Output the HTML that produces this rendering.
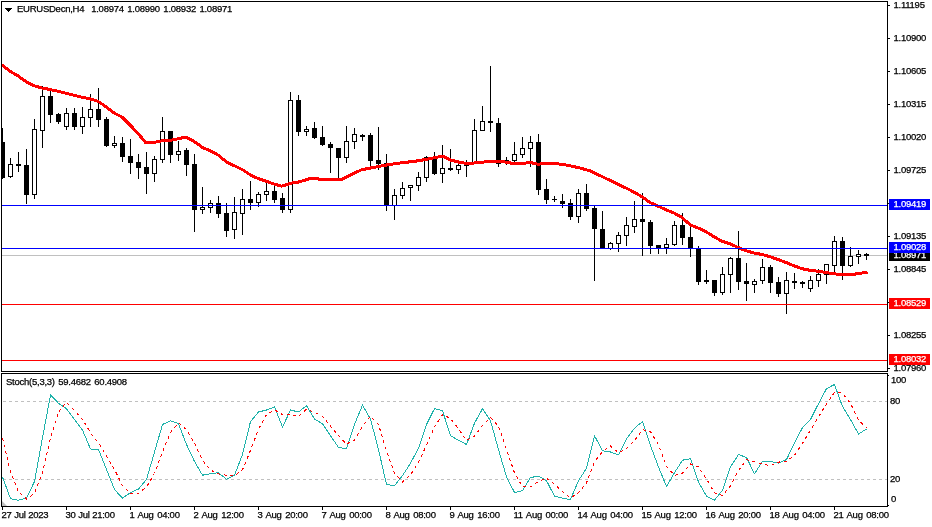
<!DOCTYPE html>
<html><head><meta charset="utf-8"><title>EURUSDecn,H4</title>
<style>
html,body{margin:0;padding:0;background:#fff;}
body{width:932px;height:527px;overflow:hidden;position:relative;font-family:"Liberation Sans",sans-serif;font-size:9.5px;color:#000;letter-spacing:-0.25px;word-spacing:1.1px;-webkit-text-stroke:0.25px currentColor;}
svg{position:absolute;left:0;top:0;}
.t{position:absolute;white-space:pre;line-height:10px;height:10px;}
.box{position:absolute;left:889px;width:41px;height:11px;color:#fff;}
.box span{position:absolute;left:4.5px;top:0px;line-height:10px;}
</style></head><body>
<svg width="932" height="527" viewBox="0 0 932 527">
<g shape-rendering="crispEdges">

<rect x="2" y="255" width="885" height="1" fill="#c0c0c0"/>
<rect x="2" y="128" width="1" height="51" fill="#000"/>
<rect x="1" y="142" width="4" height="36" fill="#000"/>
<rect x="10" y="158" width="1" height="20" fill="#000"/>
<rect x="8" y="164" width="5" height="13" fill="#000"/><rect x="9" y="165" width="3" height="11" fill="#fff"/>
<rect x="18" y="152" width="1" height="20" fill="#000"/>
<rect x="16" y="164" width="5" height="2" fill="#000"/>
<rect x="26" y="149" width="1" height="55" fill="#000"/>
<rect x="24" y="165" width="5" height="30" fill="#000"/>
<rect x="34" y="119" width="1" height="80" fill="#000"/>
<rect x="32" y="129" width="5" height="66" fill="#000"/><rect x="33" y="130" width="3" height="64" fill="#fff"/>
<rect x="42" y="86" width="1" height="62" fill="#000"/>
<rect x="40" y="96" width="5" height="35" fill="#000"/><rect x="41" y="97" width="3" height="33" fill="#fff"/>
<rect x="50" y="90" width="1" height="33" fill="#000"/>
<rect x="48" y="96" width="5" height="19" fill="#000"/>
<rect x="58" y="113" width="1" height="11" fill="#000"/>
<rect x="56" y="114" width="5" height="8" fill="#000"/>
<rect x="66" y="108" width="1" height="22" fill="#000"/>
<rect x="64" y="113" width="5" height="14" fill="#000"/><rect x="65" y="114" width="3" height="12" fill="#fff"/>
<rect x="74" y="108" width="1" height="22" fill="#000"/>
<rect x="72" y="113" width="5" height="14" fill="#000"/>
<rect x="82" y="107" width="1" height="27" fill="#000"/>
<rect x="80" y="117" width="5" height="10" fill="#000"/><rect x="81" y="118" width="3" height="8" fill="#fff"/>
<rect x="90" y="94" width="1" height="33" fill="#000"/>
<rect x="88" y="109" width="5" height="9" fill="#000"/><rect x="89" y="110" width="3" height="7" fill="#fff"/>
<rect x="98" y="88" width="1" height="39" fill="#000"/>
<rect x="96" y="109" width="5" height="11" fill="#000"/>
<rect x="106" y="117" width="1" height="30" fill="#000"/>
<rect x="104" y="119" width="5" height="27" fill="#000"/>
<rect x="114" y="136" width="1" height="12" fill="#000"/>
<rect x="112" y="143" width="5" height="3" fill="#000"/><rect x="113" y="144" width="3" height="1" fill="#fff"/>
<rect x="122" y="137" width="1" height="25" fill="#000"/>
<rect x="120" y="143" width="5" height="14" fill="#000"/>
<rect x="130" y="139" width="1" height="35" fill="#000"/>
<rect x="128" y="156" width="5" height="7" fill="#000"/>
<rect x="138" y="154" width="1" height="25" fill="#000"/>
<rect x="136" y="162" width="5" height="6" fill="#000"/>
<rect x="146" y="152" width="1" height="42" fill="#000"/>
<rect x="144" y="167" width="5" height="7" fill="#000"/>
<rect x="154" y="156" width="1" height="26" fill="#000"/>
<rect x="152" y="159" width="5" height="15" fill="#000"/><rect x="153" y="160" width="3" height="13" fill="#fff"/>
<rect x="162" y="117" width="1" height="46" fill="#000"/>
<rect x="160" y="131" width="5" height="29" fill="#000"/><rect x="161" y="132" width="3" height="27" fill="#fff"/>
<rect x="170" y="131" width="1" height="32" fill="#000"/>
<rect x="168" y="131" width="5" height="24" fill="#000"/>
<rect x="178" y="141" width="1" height="20" fill="#000"/>
<rect x="176" y="151" width="5" height="4" fill="#000"/><rect x="177" y="152" width="3" height="2" fill="#fff"/>
<rect x="186" y="148" width="1" height="28" fill="#000"/>
<rect x="184" y="150" width="5" height="15" fill="#000"/>
<rect x="194" y="154" width="1" height="78" fill="#000"/>
<rect x="192" y="164" width="5" height="46" fill="#000"/>
<rect x="202" y="187" width="1" height="27" fill="#000"/>
<rect x="200" y="207" width="5" height="3" fill="#000"/><rect x="201" y="208" width="3" height="1" fill="#fff"/>
<rect x="210" y="200" width="1" height="13" fill="#000"/>
<rect x="208" y="203" width="5" height="5" fill="#000"/><rect x="209" y="204" width="3" height="3" fill="#fff"/>
<rect x="218" y="196" width="1" height="22" fill="#000"/>
<rect x="216" y="203" width="5" height="11" fill="#000"/>
<rect x="226" y="203" width="1" height="34" fill="#000"/>
<rect x="224" y="213" width="5" height="18" fill="#000"/>
<rect x="234" y="197" width="1" height="42" fill="#000"/>
<rect x="232" y="212" width="5" height="18" fill="#000"/><rect x="233" y="213" width="3" height="16" fill="#fff"/>
<rect x="242" y="189" width="1" height="46" fill="#000"/>
<rect x="240" y="199" width="5" height="15" fill="#000"/><rect x="241" y="200" width="3" height="13" fill="#fff"/>
<rect x="250" y="181" width="1" height="29" fill="#000"/>
<rect x="248" y="199" width="5" height="4" fill="#000"/>
<rect x="258" y="192" width="1" height="15" fill="#000"/>
<rect x="256" y="194" width="5" height="9" fill="#000"/><rect x="257" y="195" width="3" height="7" fill="#fff"/>
<rect x="266" y="183" width="1" height="18" fill="#000"/>
<rect x="264" y="191" width="5" height="4" fill="#000"/><rect x="265" y="192" width="3" height="2" fill="#fff"/>
<rect x="274" y="186" width="1" height="17" fill="#000"/>
<rect x="272" y="191" width="5" height="9" fill="#000"/>
<rect x="282" y="193" width="1" height="20" fill="#000"/>
<rect x="280" y="198" width="5" height="12" fill="#000"/>
<rect x="290" y="92" width="1" height="121" fill="#000"/>
<rect x="288" y="100" width="5" height="110" fill="#000"/><rect x="289" y="101" width="3" height="108" fill="#fff"/>
<rect x="298" y="95" width="1" height="41" fill="#000"/>
<rect x="296" y="100" width="5" height="32" fill="#000"/>
<rect x="306" y="126" width="1" height="10" fill="#000"/>
<rect x="304" y="129" width="5" height="3" fill="#000"/><rect x="305" y="130" width="3" height="1" fill="#fff"/>
<rect x="314" y="122" width="1" height="17" fill="#000"/>
<rect x="312" y="128" width="5" height="10" fill="#000"/>
<rect x="322" y="126" width="1" height="20" fill="#000"/>
<rect x="320" y="137" width="5" height="8" fill="#000"/>
<rect x="330" y="142" width="1" height="31" fill="#000"/>
<rect x="328" y="144" width="5" height="4" fill="#000"/>
<rect x="338" y="148" width="1" height="30" fill="#000"/>
<rect x="336" y="148" width="5" height="10" fill="#000"/>
<rect x="346" y="126" width="1" height="37" fill="#000"/>
<rect x="344" y="141" width="5" height="17" fill="#000"/><rect x="345" y="142" width="3" height="15" fill="#fff"/>
<rect x="354" y="128" width="1" height="21" fill="#000"/>
<rect x="352" y="134" width="5" height="8" fill="#000"/><rect x="353" y="135" width="3" height="6" fill="#fff"/>
<rect x="362" y="134" width="1" height="7" fill="#000"/>
<rect x="360" y="135" width="5" height="2" fill="#000"/>
<rect x="370" y="133" width="1" height="33" fill="#000"/>
<rect x="368" y="135" width="5" height="26" fill="#000"/>
<rect x="378" y="127" width="1" height="43" fill="#000"/>
<rect x="376" y="160" width="5" height="4" fill="#000"/>
<rect x="386" y="154" width="1" height="57" fill="#000"/>
<rect x="384" y="163" width="5" height="42" fill="#000"/>
<rect x="394" y="189" width="1" height="31" fill="#000"/>
<rect x="392" y="195" width="5" height="11" fill="#000"/><rect x="393" y="196" width="3" height="9" fill="#fff"/>
<rect x="402" y="182" width="1" height="17" fill="#000"/>
<rect x="400" y="188" width="5" height="8" fill="#000"/><rect x="401" y="189" width="3" height="6" fill="#fff"/>
<rect x="410" y="185" width="1" height="16" fill="#000"/>
<rect x="408" y="185" width="5" height="3" fill="#000"/><rect x="409" y="186" width="3" height="1" fill="#fff"/>
<rect x="418" y="172" width="1" height="19" fill="#000"/>
<rect x="416" y="177" width="5" height="9" fill="#000"/><rect x="417" y="178" width="3" height="7" fill="#fff"/>
<rect x="426" y="156" width="1" height="26" fill="#000"/>
<rect x="424" y="157" width="5" height="21" fill="#000"/><rect x="425" y="158" width="3" height="19" fill="#fff"/>
<rect x="434" y="152" width="1" height="23" fill="#000"/>
<rect x="432" y="158" width="5" height="16" fill="#000"/>
<rect x="442" y="145" width="1" height="38" fill="#000"/>
<rect x="440" y="168" width="5" height="6" fill="#000"/><rect x="441" y="169" width="3" height="4" fill="#fff"/>
<rect x="450" y="149" width="1" height="22" fill="#000"/>
<rect x="448" y="168" width="5" height="2" fill="#000"/>
<rect x="458" y="160" width="1" height="14" fill="#000"/>
<rect x="456" y="165" width="5" height="5" fill="#000"/><rect x="457" y="166" width="3" height="3" fill="#fff"/>
<rect x="466" y="160" width="1" height="17" fill="#000"/>
<rect x="464" y="165" width="5" height="1" fill="#000"/>
<rect x="474" y="119" width="1" height="45" fill="#000"/>
<rect x="472" y="130" width="5" height="34" fill="#000"/><rect x="473" y="131" width="3" height="32" fill="#fff"/>
<rect x="482" y="106" width="1" height="25" fill="#000"/>
<rect x="480" y="121" width="5" height="10" fill="#000"/><rect x="481" y="122" width="3" height="8" fill="#fff"/>
<rect x="490" y="66" width="1" height="66" fill="#000"/>
<rect x="488" y="121" width="5" height="2" fill="#000"/>
<rect x="498" y="118" width="1" height="49" fill="#000"/>
<rect x="496" y="123" width="5" height="41" fill="#000"/>
<rect x="506" y="157" width="1" height="8" fill="#000"/>
<rect x="504" y="160" width="5" height="1" fill="#000"/>
<rect x="514" y="142" width="1" height="20" fill="#000"/>
<rect x="512" y="154" width="5" height="7" fill="#000"/><rect x="513" y="155" width="3" height="5" fill="#fff"/>
<rect x="522" y="137" width="1" height="21" fill="#000"/>
<rect x="520" y="148" width="5" height="7" fill="#000"/><rect x="521" y="149" width="3" height="5" fill="#fff"/>
<rect x="530" y="136" width="1" height="31" fill="#000"/>
<rect x="528" y="142" width="5" height="7" fill="#000"/><rect x="529" y="143" width="3" height="5" fill="#fff"/>
<rect x="538" y="134" width="1" height="61" fill="#000"/>
<rect x="536" y="142" width="5" height="48" fill="#000"/>
<rect x="546" y="179" width="1" height="25" fill="#000"/>
<rect x="544" y="189" width="5" height="11" fill="#000"/>
<rect x="554" y="196" width="1" height="6" fill="#000"/>
<rect x="552" y="199" width="5" height="1" fill="#000"/>
<rect x="562" y="194" width="1" height="14" fill="#000"/>
<rect x="560" y="201" width="5" height="3" fill="#000"/>
<rect x="570" y="199" width="1" height="21" fill="#000"/>
<rect x="568" y="203" width="5" height="14" fill="#000"/>
<rect x="578" y="189" width="1" height="34" fill="#000"/>
<rect x="576" y="193" width="5" height="24" fill="#000"/><rect x="577" y="194" width="3" height="22" fill="#fff"/>
<rect x="586" y="184" width="1" height="27" fill="#000"/>
<rect x="584" y="193" width="5" height="16" fill="#000"/>
<rect x="594" y="206" width="1" height="75" fill="#000"/>
<rect x="592" y="208" width="5" height="21" fill="#000"/>
<rect x="602" y="211" width="1" height="37" fill="#000"/>
<rect x="600" y="229" width="5" height="19" fill="#000"/>
<rect x="610" y="242" width="1" height="8" fill="#000"/>
<rect x="608" y="243" width="5" height="6" fill="#000"/><rect x="609" y="244" width="3" height="4" fill="#fff"/>
<rect x="618" y="232" width="1" height="20" fill="#000"/>
<rect x="616" y="235" width="5" height="9" fill="#000"/><rect x="617" y="236" width="3" height="7" fill="#fff"/>
<rect x="626" y="217" width="1" height="29" fill="#000"/>
<rect x="624" y="225" width="5" height="11" fill="#000"/><rect x="625" y="226" width="3" height="9" fill="#fff"/>
<rect x="634" y="201" width="1" height="32" fill="#000"/>
<rect x="632" y="219" width="5" height="8" fill="#000"/><rect x="633" y="220" width="3" height="6" fill="#fff"/>
<rect x="642" y="193" width="1" height="63" fill="#000"/>
<rect x="640" y="219" width="5" height="3" fill="#000"/>
<rect x="650" y="220" width="1" height="34" fill="#000"/>
<rect x="648" y="222" width="5" height="24" fill="#000"/>
<rect x="658" y="245" width="1" height="9" fill="#000"/>
<rect x="656" y="245" width="5" height="3" fill="#000"/>
<rect x="666" y="238" width="1" height="16" fill="#000"/>
<rect x="664" y="244" width="5" height="4" fill="#000"/><rect x="665" y="245" width="3" height="2" fill="#fff"/>
<rect x="674" y="221" width="1" height="25" fill="#000"/>
<rect x="672" y="225" width="5" height="20" fill="#000"/><rect x="673" y="226" width="3" height="18" fill="#fff"/>
<rect x="682" y="213" width="1" height="32" fill="#000"/>
<rect x="680" y="225" width="5" height="13" fill="#000"/>
<rect x="690" y="224" width="1" height="33" fill="#000"/>
<rect x="688" y="237" width="5" height="12" fill="#000"/>
<rect x="698" y="246" width="1" height="39" fill="#000"/>
<rect x="696" y="248" width="5" height="34" fill="#000"/>
<rect x="706" y="270" width="1" height="14" fill="#000"/>
<rect x="704" y="280" width="5" height="2" fill="#000"/>
<rect x="714" y="280" width="1" height="16" fill="#000"/>
<rect x="712" y="280" width="5" height="13" fill="#000"/>
<rect x="722" y="267" width="1" height="28" fill="#000"/>
<rect x="720" y="274" width="5" height="19" fill="#000"/><rect x="721" y="275" width="3" height="17" fill="#fff"/>
<rect x="730" y="257" width="1" height="36" fill="#000"/>
<rect x="728" y="258" width="5" height="17" fill="#000"/><rect x="729" y="259" width="3" height="15" fill="#fff"/>
<rect x="738" y="231" width="1" height="59" fill="#000"/>
<rect x="736" y="258" width="5" height="24" fill="#000"/>
<rect x="746" y="263" width="1" height="38" fill="#000"/>
<rect x="744" y="281" width="5" height="3" fill="#000"/>
<rect x="754" y="279" width="1" height="14" fill="#000"/>
<rect x="752" y="281" width="5" height="4" fill="#000"/><rect x="753" y="282" width="3" height="2" fill="#fff"/>
<rect x="762" y="259" width="1" height="25" fill="#000"/>
<rect x="760" y="267" width="5" height="14" fill="#000"/><rect x="761" y="268" width="3" height="12" fill="#fff"/>
<rect x="770" y="265" width="1" height="28" fill="#000"/>
<rect x="768" y="267" width="5" height="16" fill="#000"/>
<rect x="778" y="277" width="1" height="20" fill="#000"/>
<rect x="776" y="282" width="5" height="12" fill="#000"/>
<rect x="786" y="272" width="1" height="42" fill="#000"/>
<rect x="784" y="280" width="5" height="14" fill="#000"/><rect x="785" y="281" width="3" height="12" fill="#fff"/>
<rect x="794" y="273" width="1" height="16" fill="#000"/>
<rect x="792" y="281" width="5" height="2" fill="#000"/>
<rect x="802" y="281" width="1" height="7" fill="#000"/>
<rect x="800" y="282" width="5" height="2" fill="#000"/>
<rect x="810" y="276" width="1" height="16" fill="#000"/>
<rect x="808" y="280" width="5" height="9" fill="#000"/><rect x="809" y="281" width="3" height="7" fill="#fff"/>
<rect x="818" y="269" width="1" height="18" fill="#000"/>
<rect x="816" y="274" width="5" height="7" fill="#000"/><rect x="817" y="275" width="3" height="5" fill="#fff"/>
<rect x="826" y="264" width="1" height="20" fill="#000"/>
<rect x="824" y="264" width="5" height="11" fill="#000"/><rect x="825" y="265" width="3" height="9" fill="#fff"/>
<rect x="834" y="236" width="1" height="37" fill="#000"/>
<rect x="832" y="241" width="5" height="25" fill="#000"/><rect x="833" y="242" width="3" height="23" fill="#fff"/>
<rect x="842" y="237" width="1" height="43" fill="#000"/>
<rect x="840" y="241" width="5" height="25" fill="#000"/>
<rect x="850" y="247" width="1" height="20" fill="#000"/>
<rect x="848" y="256" width="5" height="10" fill="#000"/><rect x="849" y="257" width="3" height="8" fill="#fff"/>
<rect x="858" y="250" width="1" height="14" fill="#000"/>
<rect x="856" y="254" width="5" height="3" fill="#000"/><rect x="857" y="255" width="3" height="1" fill="#fff"/>
<rect x="866" y="253" width="1" height="7" fill="#000"/>
<rect x="864" y="254" width="5" height="2" fill="#000"/>
</g>
<polyline points="2,65.0 10,71.3 18,75.8 26,81.7 34,85.8 42,88.0 50,89.5 58,91.3 66,93.3 74,95.3 82,97.2 90,98.8 98,101.3 106,106.7 114,113.0 122,117.0 130,125.0 138,133.3 145.5,142.5 150,142.2 154,142.3 162.5,140.8 170.5,140.3 178.5,138.7 185.8,137.0 194.5,141.7 202.5,147.5 210.5,150.8 218.5,155.3 226.5,162.0 234.5,165.8 242.5,169.7 250.5,175.0 258.5,178.7 266.5,181.3 274.5,184.2 281.7,186.2 290.5,183.3 298.5,182.0 304.5,180.3 310,178.6 318,178.6 319,179.4 341.5,179.4 361.4,169.8 384,165.4 398,163.2 414.7,161.3 426.9,159.3 435.3,157.6 442.3,156.0 446,157.9 450.5,160.1 458.5,162.0 466.5,163.4 474.5,163.0 482.5,162.2 487,161.5 498.5,161.5 504,161.8 510.4,163.0 526.3,163.0 530.5,162.6 538,164.2 546,163.3 562,164.2 578,167.5 590,170.8 604,177.5 630,190.0 642,196.7 650,202.5 658,206.2 666,209.7 674,213.0 682,217.5 690,224.7 698,228.0 706,231.7 714,236.7 722,241.3 730,243.7 738,247.5 746,250.8 754,253.0 762,254.5 770,256.7 778,259.5 786,262.5 794,265.8 802,268.7 810,270.3 818,271.3 826,272.5 834,273.7 842,275.0 850,274.7 858,273.7 866,272.2 867.5,272.0" fill="none" stroke="#ff0000" stroke-width="3" stroke-linejoin="round" stroke-linecap="butt" shape-rendering="crispEdges"/>
<g shape-rendering="crispEdges">
<rect x="2" y="205" width="885" height="1" fill="#0000ff"/>
<rect x="2" y="248" width="885" height="1" fill="#0000ff"/>
<rect x="2" y="304" width="885" height="1" fill="#ff0000"/>
<rect x="2" y="360" width="885" height="1" fill="#ff0000"/>
</g>
<g shape-rendering="crispEdges">
<line x1="3" y1="401.5" x2="887" y2="401.5" stroke="#c0c0c0" stroke-width="1" stroke-dasharray="3,3"/>
<line x1="3" y1="479.5" x2="887" y2="479.5" stroke="#c0c0c0" stroke-width="1" stroke-dasharray="3,3"/>
</g>
<polyline points="2.5,477.0 10.5,498.7 18.5,500.2 26.5,498.2 34.5,481.5 42.5,437.8 50.5,395.0 58.5,403.2 66.5,408.7 74.5,419.5 82.5,430.0 90.5,449.0 98.5,449.5 106.5,469.5 114.5,489.5 122.5,498.2 130.5,492.5 138.5,489.0 146.5,479.5 154.5,452.0 162.5,424.5 170.5,420.7 178.5,423.7 186.5,444.5 194.5,461.5 202.5,475.2 210.5,473.7 218.5,472.7 226.5,479.3 234.5,475.2 242.5,454.5 250.5,421.5 258.5,412.0 266.5,410.0 274.5,407.0 282.5,427.0 290.5,410.0 298.5,412.0 306.5,405.7 314.5,419.0 322.5,423.7 330.5,435.7 338.5,447.5 346.5,448.7 354.5,424.5 362.5,405.0 370.5,419.0 378.5,449.5 386.5,484.5 394.5,485.7 402.5,475.7 410.5,463.2 418.5,448.2 426.5,424.5 434.5,408.7 442.5,410.7 450.5,435.7 458.5,440.3 466.5,444.5 474.5,423.2 482.5,408.7 490.5,420.7 498.5,449.5 506.5,477.0 514.5,492.5 522.5,490.7 530.5,477.5 538.5,476.2 546.5,480.7 554.5,496.2 562.5,498.2 570.5,499.5 578.5,480.7 586.5,468.2 594.5,435.7 602.5,450.7 610.5,452.0 618.5,455.0 626.5,439.0 634.5,428.2 642.5,421.5 650.5,445.7 658.5,467.0 666.5,486.5 674.5,472.7 682.5,460.2 690.5,458.7 698.5,482.0 706.5,496.2 714.5,500.2 722.5,490.2 730.5,467.0 738.5,454.5 746.5,457.5 754.5,473.7 762.5,461.5 770.5,461.5 778.5,463.2 786.5,459.5 794.5,443.2 802.5,427.5 810.5,419.5 818.5,403.7 826.5,388.7 834.5,384.5 842.5,406.5 850.5,419.5 858.5,434.0 866.5,429.0" fill="none" stroke="#20b2aa" stroke-width="1" stroke-linejoin="round" shape-rendering="crispEdges"/>
<polyline points="2.5,438.2 10.5,472.0 18.5,492.0 26.5,499.0 34.5,493.3 42.5,472.5 50.5,438.1 58.5,412.0 66.5,402.3 74.5,410.5 82.5,419.4 90.5,432.8 98.5,442.8 106.5,456.0 114.5,469.5 122.5,485.7 130.5,493.4 138.5,493.2 146.5,487.0 154.5,473.5 162.5,452.0 170.5,432.4 178.5,423.0 186.5,429.6 194.5,443.2 202.5,460.4 210.5,470.1 218.5,473.9 226.5,475.2 234.5,475.7 242.5,469.7 250.5,450.4 258.5,429.3 266.5,414.5 274.5,409.7 282.5,414.7 290.5,414.7 298.5,416.3 306.5,409.2 314.5,412.2 322.5,416.1 330.5,426.1 338.5,435.6 346.5,444.0 354.5,440.2 362.5,426.1 370.5,416.2 378.5,424.5 386.5,451.0 394.5,473.2 402.5,482.0 410.5,474.9 418.5,462.4 426.5,445.3 434.5,427.1 442.5,414.6 450.5,418.4 458.5,428.9 466.5,440.2 474.5,436.0 482.5,425.5 490.5,417.5 498.5,426.3 506.5,449.1 514.5,473.0 522.5,486.7 530.5,486.9 538.5,481.5 546.5,478.1 554.5,484.4 562.5,491.7 570.5,498.0 578.5,492.8 586.5,482.8 594.5,461.5 602.5,451.5 610.5,446.1 618.5,452.6 626.5,448.7 634.5,440.7 642.5,429.6 650.5,431.8 658.5,444.7 666.5,466.4 674.5,475.4 682.5,473.1 690.5,463.9 698.5,467.0 706.5,479.0 714.5,492.8 722.5,495.5 730.5,485.8 738.5,470.6 746.5,459.7 754.5,461.9 762.5,464.2 770.5,465.6 778.5,462.1 786.5,461.4 794.5,455.3 802.5,443.4 810.5,430.1 818.5,416.9 826.5,404.0 834.5,392.3 842.5,393.2 850.5,403.5 858.5,420.0 866.5,427.7" fill="none" stroke="#ff0000" stroke-width="1" stroke-dasharray="3,3.5" shape-rendering="crispEdges"/>
<g shape-rendering="crispEdges" fill="#000">
<rect x="1" y="1" width="887" height="1"/>
<rect x="1" y="1" width="1" height="371"/>
<rect x="1" y="371" width="887" height="1"/>
<rect x="1" y="373" width="887" height="1"/>
<rect x="1" y="373" width="1" height="134"/>
<rect x="1" y="506" width="887" height="1"/>
<rect x="887" y="1" width="1" height="371"/>
<rect x="887" y="373" width="1" height="134"/>
<rect x="888" y="5" width="2" height="1"/>
<rect x="888" y="38" width="2" height="1"/>
<rect x="888" y="71" width="2" height="1"/>
<rect x="888" y="104" width="2" height="1"/>
<rect x="888" y="137" width="2" height="1"/>
<rect x="888" y="170" width="2" height="1"/>
<rect x="888" y="203" width="2" height="1"/>
<rect x="888" y="236" width="2" height="1"/>
<rect x="888" y="269" width="2" height="1"/>
<rect x="888" y="302" width="2" height="1"/>
<rect x="888" y="335" width="2" height="1"/>
<rect x="888" y="368" width="2" height="1"/>
<rect x="888" y="375" width="1" height="1"/>
<rect x="888" y="505" width="1" height="1"/>
<rect x="2" y="507" width="1" height="3"/>
<rect x="66" y="507" width="1" height="3"/>
<rect x="130" y="507" width="1" height="3"/>
<rect x="194" y="507" width="1" height="3"/>
<rect x="258" y="507" width="1" height="3"/>
<rect x="322" y="507" width="1" height="3"/>
<rect x="386" y="507" width="1" height="3"/>
<rect x="450" y="507" width="1" height="3"/>
<rect x="514" y="507" width="1" height="3"/>
<rect x="578" y="507" width="1" height="3"/>
<rect x="642" y="507" width="1" height="3"/>
<rect x="706" y="507" width="1" height="3"/>
<rect x="770" y="507" width="1" height="3"/>
<rect x="834" y="507" width="1" height="3"/>
<rect x="5" y="8" width="7" height="1"/><rect x="6" y="9" width="5" height="1"/><rect x="7" y="10" width="3" height="1"/><rect x="8" y="11" width="1" height="1"/>
</g>
<polygon points="2,501 2,506 7,506" fill="#c0c0c0"/>
</svg>
<div class="t" id="title" style="left:17px;top:4px;">EURUSDecn,H4  1.08974 1.08990 1.08932 1.08971</div>
<div class="t" id="stt" style="left:6px;top:377px;">Stoch(5,3,3) 59.4682 60.4908</div>
<div class="t" style="left:893.5px;top:0px;">1.11195</div>
<div class="t" style="left:893.5px;top:33px;">1.10900</div>
<div class="t" style="left:893.5px;top:66px;">1.10605</div>
<div class="t" style="left:893.5px;top:99px;">1.10315</div>
<div class="t" style="left:893.5px;top:132px;">1.10020</div>
<div class="t" style="left:893.5px;top:165px;">1.09725</div>
<div class="t" style="left:893.5px;top:231px;">1.09135</div>
<div class="t" style="left:893.5px;top:264px;">1.08845</div>
<div class="t" style="left:893.5px;top:330px;">1.08255</div>
<div class="t" style="left:893.5px;top:363px;">1.07960</div>
<div class="t" style="left:891px;top:375px;">100</div>
<div class="t" style="left:890px;top:396px;">80</div>
<div class="t" style="left:890px;top:474px;">20</div>
<div class="t" style="left:891px;top:494px;">0</div>
<div class="box" style="top:250px;background:#000;"><span>1.08971</span></div>
<div class="box" style="top:199px;background:#00f;"><span>1.09419</span></div>
<div class="box" style="top:242px;background:#00f;"><span>1.09028</span></div>
<div class="box" style="top:298px;background:#f00;"><span>1.08529</span></div>
<div class="box" style="top:354px;background:#f00;"><span>1.08032</span></div>
<div class="t" style="left:1.5px;top:510px;word-spacing:0.2px;">27 Jul 2023</div>
<div class="t" style="left:65.5px;top:510px;word-spacing:0.2px;">30 Jul 21:00</div>
<div class="t" style="left:129.5px;top:510px;">1 Aug 04:00</div>
<div class="t" style="left:193.5px;top:510px;">2 Aug 12:00</div>
<div class="t" style="left:257.5px;top:510px;">3 Aug 20:00</div>
<div class="t" style="left:321.5px;top:510px;">7 Aug 00:00</div>
<div class="t" style="left:385.5px;top:510px;">8 Aug 08:00</div>
<div class="t" style="left:449.5px;top:510px;">9 Aug 16:00</div>
<div class="t" style="left:513.5px;top:510px;">11 Aug 00:00</div>
<div class="t" style="left:577.5px;top:510px;">14 Aug 04:00</div>
<div class="t" style="left:641.5px;top:510px;">15 Aug 12:00</div>
<div class="t" style="left:705.5px;top:510px;">16 Aug 20:00</div>
<div class="t" style="left:769.5px;top:510px;">18 Aug 04:00</div>
<div class="t" style="left:833.5px;top:510px;">21 Aug 08:00</div>
</body></html>
